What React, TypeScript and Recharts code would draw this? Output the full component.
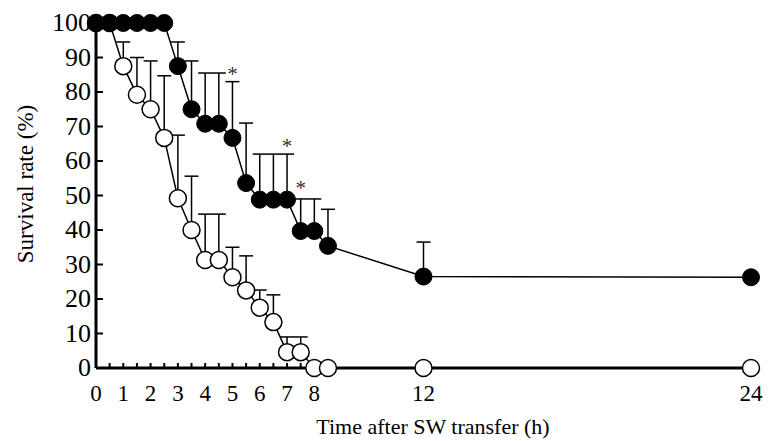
import { ComposedChart, Line, XAxis, YAxis, ErrorBar, Scatter } from 'recharts';

// sampling times (h)
const hours = [0, 0.5, 1, 1.5, 2, 2.5, 3, 3.5, 4, 4.5, 5, 5.5, 6, 6.5, 7, 7.5, 8, 8.5, 12, 24];

// open circles
const openMean = [100, 100, 87.5, 79.2, 75, 66.7, 49.2, 40, 31.3, 31.3, 26.3, 22.5, 17.5, 13.3, 4.6, 4.6, 0, 0, 0, 0];
const openErr = [0, 0, 7, 10.8, 14, 18, 18.3, 15.6, 13.3, 13.3, 8.7, 10, 5.1, 7.9, 4.4, 4.4, 0, 0, 0, 0];

// filled circles
const filledMean = [100, 100, 100, 100, 100, 100, 87.5, 75, 70.8, 70.8, 66.7, 53.6, 48.8, 48.8, 48.8, 39.7, 39.7, 35.4, 26.5, 26.3];
const filledErr = [0, 0, 0, 0, 0, 0, 7, 14, 14.7, 14.7, 16.3, 17.4, 13.2, 13.2, 13.2, 9.3, 9.3, 10.6, 10, 0];

// significance marks
const starHours = [5, 7, 7.5];
const starLevels = [86.5, 65.5, 53.3];

const xTicks = [0, 0.5, 1, 1.5, 2, 2.5, 3, 3.5, 4, 4.5, 5, 5.5, 6, 6.5, 7, 7.5, 8, 12, 24];
const yTicks = [0, 10, 20, 30, 40, 50, 60, 70, 80, 90, 100];

const FONT = '"Liberation Serif", "Times New Roman", serif';

const openData = hours.map((h, i) => ({ h, v: openMean[i], err: [0, openErr[i]] }));
const filledData = hours.map((h, i) => ({ h, v: filledMean[i], err: [0, filledErr[i]] }));
const starData = starHours.map((h, i) => ({ h, v: starLevels[i] }));

const XTick = (props: any) => {
  const { x, y, payload } = props;
  const val = payload.value;
  const showLabel = Number.isInteger(val);
  const showLine = val > 0 && val < 8;
  return (
    <g>
      {showLine && <line x1={x} x2={x} y1={y} y2={y - 5} stroke="#000" strokeWidth={2} />}
      {showLabel && (
        <text x={x} y={y + 33} textAnchor="middle" fontSize={23} fontFamily={FONT} fill="#000">
          {val}
        </text>
      )}
    </g>
  );
};

const YTick = (props: any) => {
  const { x, y, payload } = props;
  return (
    <g>
      <line x1={x} x2={x + 7} y1={y} y2={y} stroke="#000" strokeWidth={2} />
      <text x={x - 5} y={y + 8} textAnchor="end" fontSize={26} fontFamily={FONT} fill="#000">
        {payload.value}
      </text>
    </g>
  );
};

const Star = (props: any) => {
  const { cx, cy } = props;
  return (
    <text x={cx} y={cy + 11} textAnchor="middle" fontSize={21} fontFamily={FONT} fill="#333">
      *
    </text>
  );
};

export default function App() {
  return (
    <div style={{ position: 'absolute', left: 0, top: 0, background: '#fff' }}>
      <ComposedChart width={769} height={441} margin={{ top: 23, right: 18, left: 0, bottom: 0 }}>
        <XAxis
          type="number"
          dataKey="h"
          domain={[0, 24]}
          ticks={xTicks}
          interval={0}
          height={73}
          tickSize={0}
          tickMargin={0}
          tickLine={false}
          tick={<XTick />}
          axisLine={{ stroke: '#000', strokeWidth: 3 }}
        />
        <YAxis
          type="number"
          domain={[0, 100]}
          ticks={yTicks}
          interval={0}
          width={96}
          tickSize={0}
          tickMargin={0}
          tickLine={false}
          tick={<YTick />}
          axisLine={{ stroke: '#000', strokeWidth: 3 }}
        />
        <Line
          data={openData}
          dataKey="v"
          type="linear"
          stroke="#000"
          strokeWidth={1.5}
          dot={{ r: 8.5, fill: '#fff', stroke: '#000', strokeWidth: 1.5 }}
          activeDot={false}
          isAnimationActive={false}
        >
          <ErrorBar dataKey="err" direction="y" width={7} stroke="#000" strokeWidth={1.5} />
        </Line>
        <Line
          data={filledData}
          dataKey="v"
          type="linear"
          stroke="#000"
          strokeWidth={1.5}
          dot={{ r: 8.5, fill: '#000', stroke: '#000', strokeWidth: 1 }}
          activeDot={false}
          isAnimationActive={false}
        >
          <ErrorBar dataKey="err" direction="y" width={7} stroke="#000" strokeWidth={1.5} />
        </Line>
        <Scatter data={starData} dataKey="v" shape={<Star />} isAnimationActive={false} />
      </ComposedChart>
      <svg width={769} height={441} style={{ position: 'absolute', left: 0, top: 0, pointerEvents: 'none' }}>
        <text x={433} y={434} textAnchor="middle" fontSize={22} fontFamily={FONT} fill="#000">
          Time after SW transfer (h)
        </text>
        <text
          x={33}
          y={184}
          textAnchor="middle"
          fontSize={23}
          fontFamily={FONT}
          fill="#000"
          transform="rotate(-90 33 184)"
        >
          Survival rate (%)
        </text>
      </svg>
    </div>
  );
}
